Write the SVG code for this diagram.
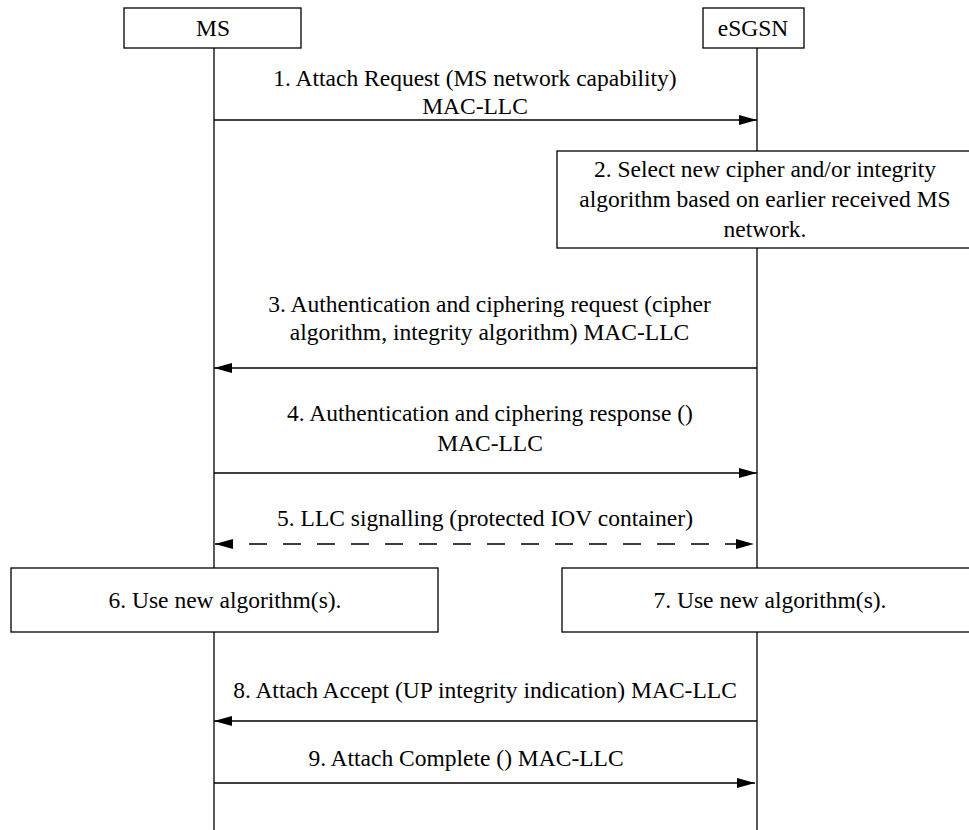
<svg xmlns="http://www.w3.org/2000/svg" width="969" height="830" viewBox="0 0 969 830">
<style>
text{font-family:"Liberation Serif","Times New Roman",Times,serif;font-size:23.5px;fill:#000;text-anchor:middle}
.box{fill:#fff;stroke:#000;stroke-width:1.3}
.life{stroke:#000;stroke-width:1.3;fill:none}
.msg{stroke:#000;stroke-width:1.3;fill:none}
.dash{stroke-dasharray:18 16}
</style>
<defs>
<marker id="ah" viewBox="0 0 18 10" refX="18" refY="5" markerWidth="18" markerHeight="10" markerUnits="userSpaceOnUse" orient="auto-start-reverse">
<path d="M0,0 L18,5 L0,10 Z" fill="#000"/>
</marker>
</defs>
<g id="lifelines">
<line class="life" x1="214" y1="48" x2="214" y2="830"/>
<line class="life" x1="757" y1="48" x2="757" y2="830"/>
</g>
<g id="MS">
<rect class="box" x="124" y="8" width="177" height="40"/>
<text x="213" y="36">MS</text>
</g>
<g id="eSGSN">
<rect class="box" x="703" y="8" width="101" height="40"/>
<text x="753" y="36">eSGSN</text>
</g>
<g id="step2">
<rect class="box" x="557" y="151" width="420" height="97"/>
<text x="765" y="177">2. Select new cipher and/or integrity</text>
<text x="765" y="207">algorithm based on earlier received MS</text>
<text x="765" y="237">network.</text>
</g>
<g id="step6">
<rect class="box" x="11" y="568" width="427" height="64"/>
<text x="225" y="608">6. Use new algorithm(s).</text>
</g>
<g id="step7">
<rect class="box" x="562" y="568" width="420" height="64"/>
<text x="770" y="608">7. Use new algorithm(s).</text>
</g>
<g id="connectors">
<line class="msg" x1="214" y1="120" x2="757" y2="120" marker-end="url(#ah)"/>
<line class="msg" x1="757" y1="368" x2="214" y2="368" marker-end="url(#ah)"/>
<line class="msg" x1="214" y1="473" x2="757" y2="473" marker-end="url(#ah)"/>
<line class="msg dash" x1="215" y1="544" x2="754" y2="544" marker-start="url(#ah)" marker-end="url(#ah)"/>
<line class="msg" x1="757" y1="721" x2="214" y2="721" marker-end="url(#ah)"/>
<line class="msg" x1="214" y1="783" x2="755" y2="783" marker-end="url(#ah)"/>
</g>
<g id="labels">
<text x="475" y="86">1. Attach Request (MS network capability)</text>
<text x="475" y="114">MAC-LLC</text>
<text x="489.5" y="312">3. Authentication and ciphering request (cipher</text>
<text x="489.5" y="340">algorithm, integrity algorithm) MAC-LLC</text>
<text x="490" y="421">4. Authentication and ciphering response ()</text>
<text x="490" y="451">MAC-LLC</text>
<text x="485" y="526">5. LLC signalling (protected IOV container)</text>
<text x="485" y="698">8. Attach Accept (UP integrity indication) MAC-LLC</text>
<text x="466" y="766">9. Attach Complete () MAC-LLC</text>
</g>
</svg>
